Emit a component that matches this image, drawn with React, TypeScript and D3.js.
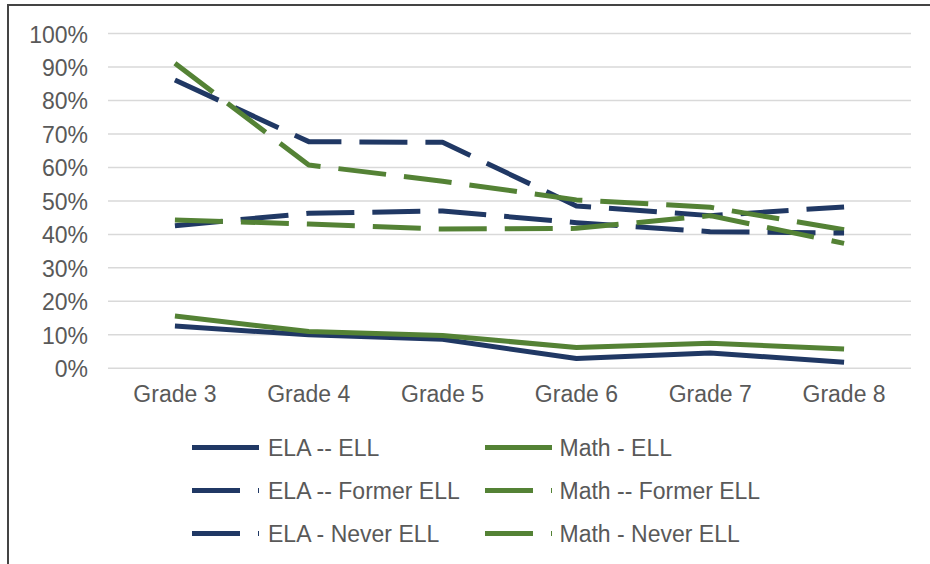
import * as d3 from 'd3'

const grades = ['Grade 3', 'Grade 4', 'Grade 5', 'Grade 6', 'Grade 7', 'Grade 8']
const elaEll = [12.6, 10, 8.7, 2.9, 4.6, 1.8]
const mathEll = [15.6, 11, 9.8, 6.2, 7.5, 5.8]
const elaFormer = [86.1, 67.7, 67.5, 48.5, 45.6, 48.2]
const mathFormer = [91.1, 60.7, 55.9, 50.3, 48.1, 41.4]
const elaNever = [42.6, 46.3, 47, 43.5, 40.8, 40.4]
const mathNever = [44.3, 43.1, 41.6, 41.8, 45.6, 37.3]
const yTicks = [0, 10, 20, 30, 40, 50, 60, 70, 80, 90, 100]

const NAVY = '#203864'
const GREEN = '#548235'
const TEXT = '#595959'
const FONT = '"Liberation Sans", Arial, sans-serif'
const DASH = '48 18'
const STROKE = 5

// legend reads row by row, same as Excel's series order
const series = [
  { name: 'ELA -- ELL', values: elaEll, color: NAVY, dashed: false },
  { name: 'Math - ELL', values: mathEll, color: GREEN, dashed: false },
  { name: 'ELA -- Former ELL', values: elaFormer, color: NAVY, dashed: true },
  { name: 'Math -- Former ELL', values: mathFormer, color: GREEN, dashed: true },
  { name: 'ELA - Never ELL', values: elaNever, color: NAVY, dashed: true },
  { name: 'Math - Never ELL', values: mathNever, color: GREEN, dashed: true },
]

const W = 930
const H = 564
const PLOT = { left: 108, right: 911, top: 33.5, bottom: 368.3 }

export default function App() {
  const x = d3.scaleBand<string>().domain(grades).range([PLOT.left, PLOT.right])
  const cx = (g: string) => (x(g) ?? 0) + x.bandwidth() / 2
  const y = d3.scaleLinear().domain([0, 100]).range([PLOT.bottom, PLOT.top])

  const line = d3
    .line<number>()
    .x((_, i) => cx(grades[i]))
    .y((v) => y(v))

  return (
    <svg
      width={W}
      height={H}
      style={{ position: 'absolute', left: 0, top: 0, background: '#fff' }}
      fontFamily={FONT}
    >
      <rect x={8} y={5} width={W + 20} height={H + 20} fill="#fff" stroke="#444" strokeWidth={2} />

      {/* gridlines + y labels */}
      {yTicks.map((t) => (
        <g key={t}>
          <line x1={PLOT.left} x2={PLOT.right} y1={y(t)} y2={y(t)} stroke="#d9d9d9" strokeWidth={1.5} />
          <text x={88} y={y(t) + 9} textAnchor="end" fontSize={23} fill={TEXT}>
            {t}%
          </text>
        </g>
      ))}

      {/* x labels */}
      {grades.map((g) => (
        <text key={g} x={cx(g)} y={402} textAnchor="middle" fontSize={23} fill={TEXT}>
          {g}
        </text>
      ))}

      {/* lines */}
      {series.map((s) => (
        <path
          key={s.name}
          d={line(s.values) ?? ''}
          fill="none"
          stroke={s.color}
          strokeWidth={STROKE}
          strokeLinejoin="round"
          strokeDasharray={s.dashed ? DASH : undefined}
        />
      ))}

      {/* legend */}
      {series.map((s, i) => {
        const col = i % 2
        const row = Math.floor(i / 2)
        const lx = 192 + col * 293
        const ly = 447.5 + row * 43
        return (
          <g key={s.name}>
            <line
              x1={lx}
              x2={lx + 67}
              y1={ly}
              y2={ly}
              stroke={s.color}
              strokeWidth={STROKE}
              strokeDasharray={s.dashed ? DASH : undefined}
            />
            <text x={lx + 76 - col * 1.5} y={ly + 8} fontSize={23} fill={TEXT}>
              {s.name}
            </text>
          </g>
        )
      })}
    </svg>
  )
}
